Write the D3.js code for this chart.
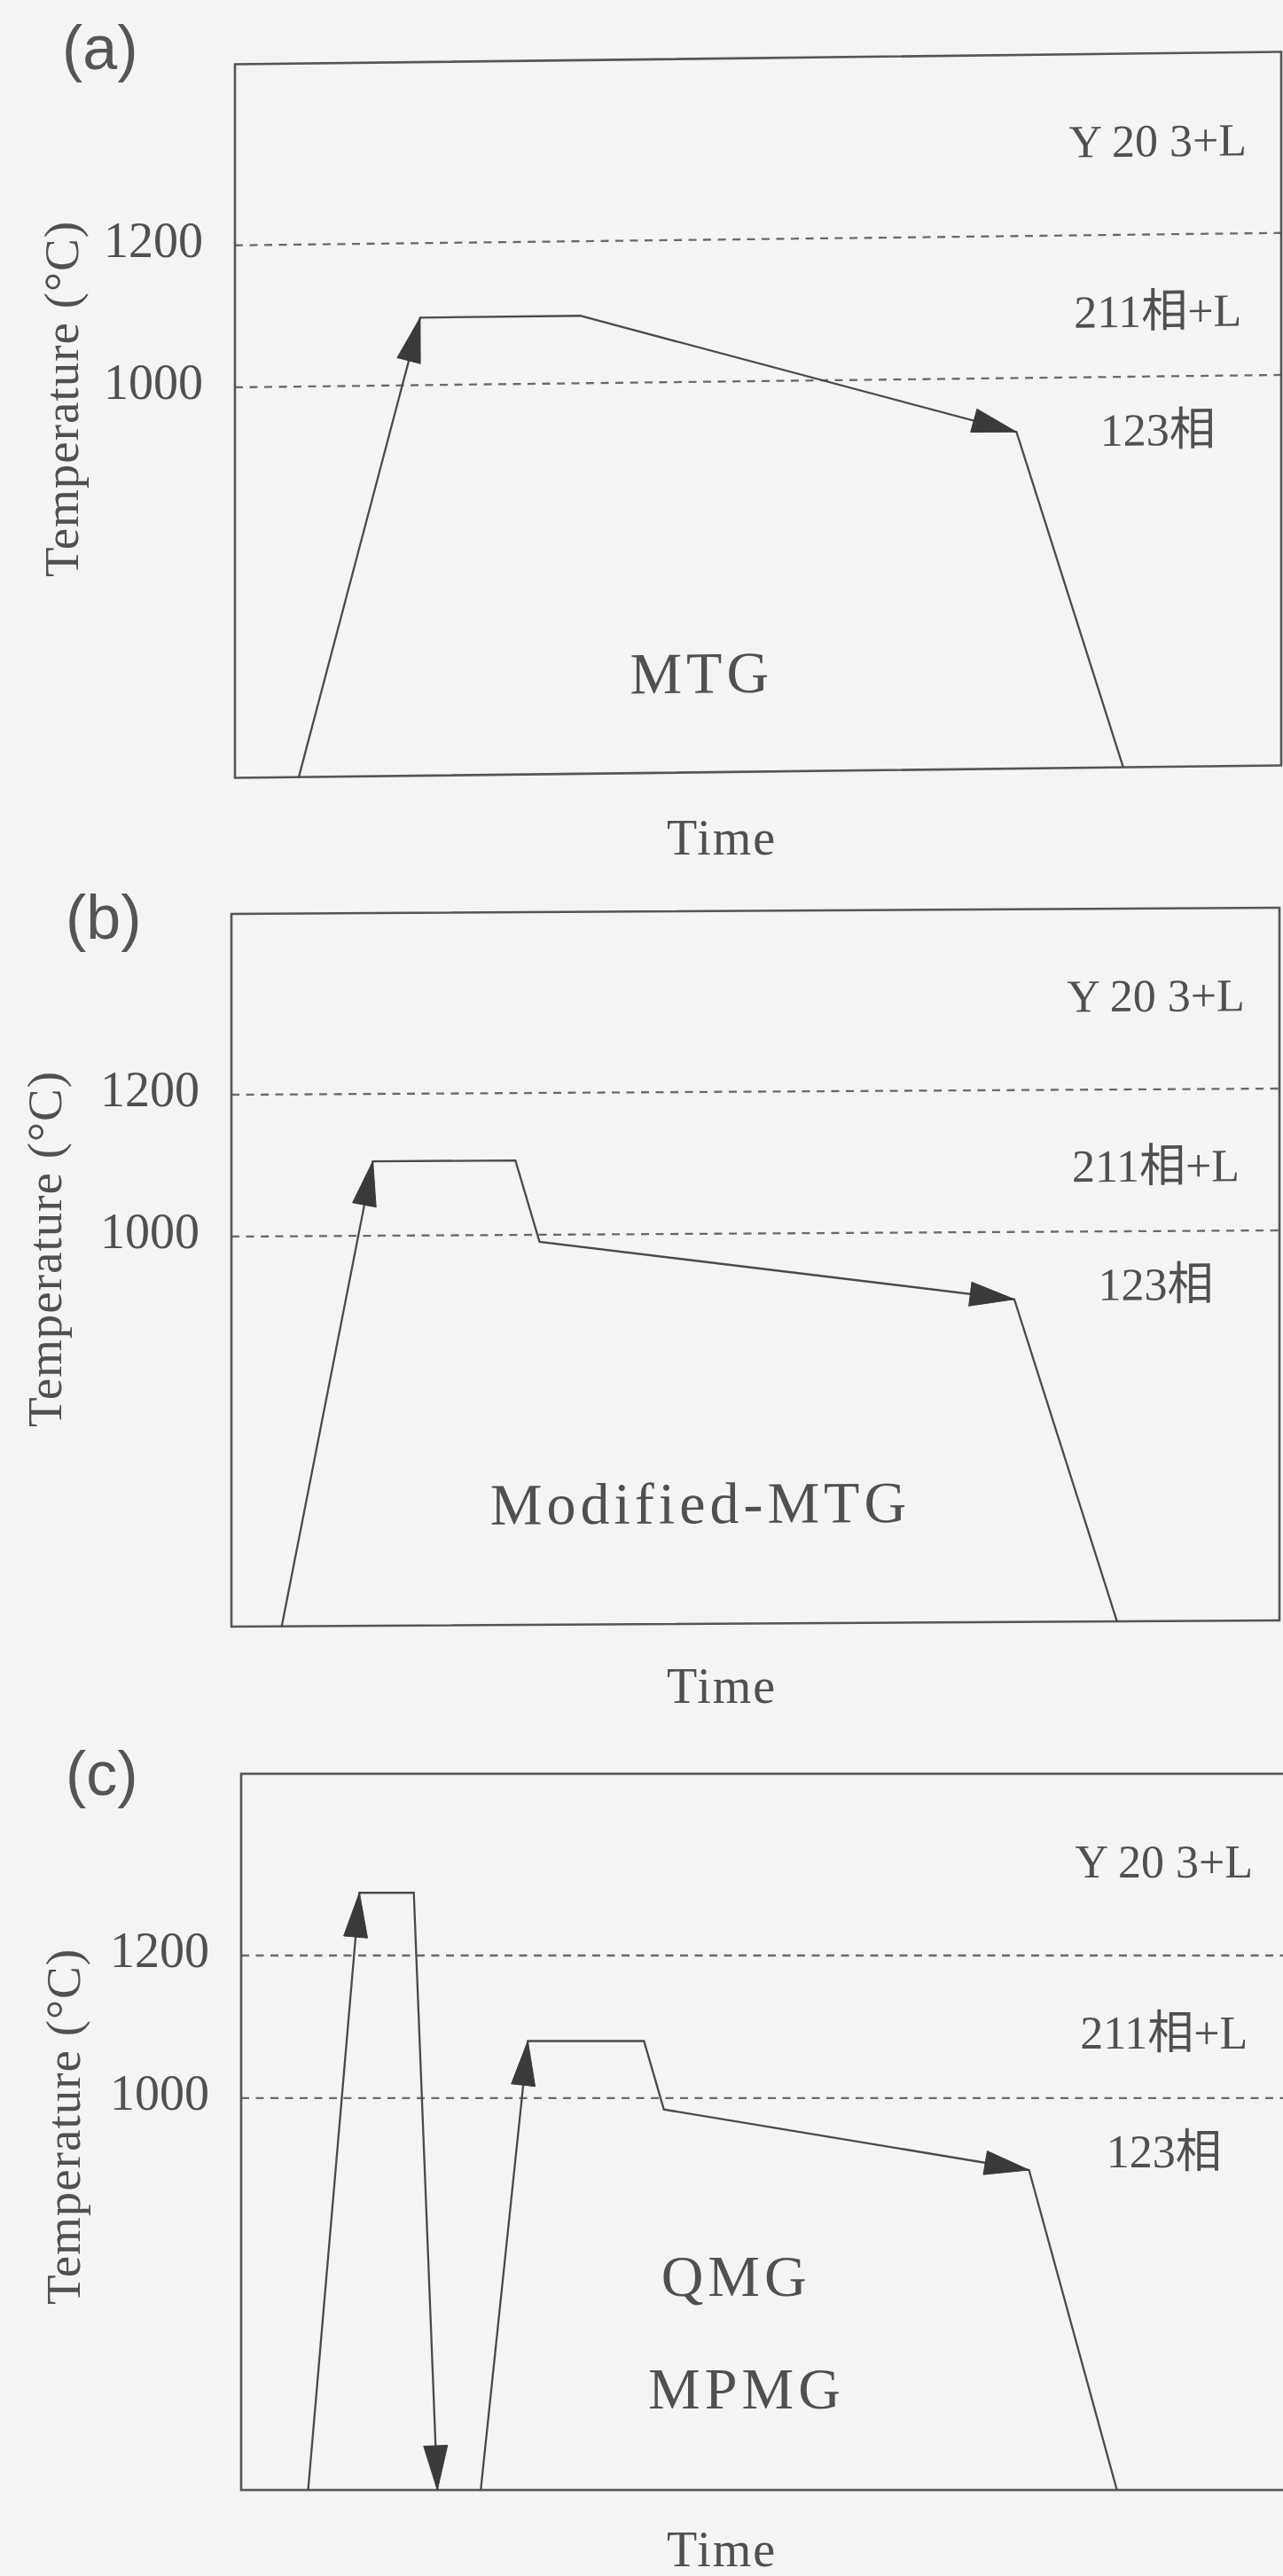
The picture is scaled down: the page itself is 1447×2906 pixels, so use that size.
<!DOCTYPE html>
<html>
<head>
<meta charset="utf-8">
<script src="https://cdn.jsdelivr.net/npm/d3@7"></script>
<style>
  html, body { margin: 0; padding: 0; background: #f5f3f4; }
  svg { display: block; }
</style>
</head>
<body>
<svg id="chart" width="1447" height="2906"></svg>
<script>
// Heat-treatment schedules for melt-processed YBCO: time (arbitrary units) vs temperature (°C)

const panelIds = ["(a)", "(b)", "(c)"];
const methodNames = [["MTG"], ["Modified-MTG"], ["QMG", "MPMG"]];
const tempTicks = [1000, 1200];
const tempDomain = [450, 1455];
const timeDomain = [0, 100];
const axisTitleY = "Temperature (°C)";
const axisTitleX = "Time";

// Phase regions, labelled on the right of every panel
const phaseLabels = ["Y 20 3+L", "211相+L", "123相"];
const phaseLabelTemps = [1310, 1070, 903];
const phaseLabelTime = 88.2;

// (a) MTG
const mtgTime = [6.1, 17.7, 33.0, 74.7, 84.9];
const mtgTemp = [450, 1095, 1095, 924, 450];
const mtgArrows = [1, 3];

// (b) Modified-MTG
const mmtgTime = [4.8, 13.5, 27.1, 29.4, 74.7, 84.5];
const mmtgTemp = [450, 1105, 1105, 990, 905, 450];
const mmtgArrows = [1, 4];

// (c) QMG / MPMG: quench from the Y2O3+L region, then the growth cycle
const quenchTime = [6.4, 11.3, 16.5, 18.75];
const quenchTemp = [450, 1288, 1288, 450];
const quenchArrows = [1, 3];
const growthTime = [22.9, 27.4, 38.5, 40.4, 75.3, 83.7];
const growthTemp = [450, 1080, 1080, 984, 899, 450];
const growthArrows = [1, 4];

const curvesByPanel = [
  [{ t: mtgTime, v: mtgTemp, arrows: mtgArrows }],
  [{ t: mmtgTime, v: mmtgTemp, arrows: mmtgArrows }],
  [{ t: quenchTime, v: quenchTemp, arrows: quenchArrows },
   { t: growthTime, v: growthTemp, arrows: growthArrows }]
];

// Layout of the three stacked panels (pixels); method labels are anchored in data space
const layout = [
  { left: 265, top: 72.5, width: 1180, height: 805, skew: -0.68,
    idPos: [70, 78], titlePos: [69, 450],
    methodAt: [[44.6, 562]] },
  { left: 261, top: 1031, width: 1182, height: 804, skew: -0.34,
    idPos: [74, 1059], titlePos: [50, 1409],
    methodAt: [[44.75, 592]] },
  { left: 272, top: 2001, width: 1180, height: 808, skew: 0,
    idPos: [74, 2025], titlePos: [71, 2399],
    methodAt: [[47.3, 723], [48.3, 564]] }
];

const serif = "'Liberation Serif', 'Noto Sans CJK SC', serif";
const ink = "#4a4a4a";
const textInk = "#505050";

const svg = d3.select("#chart");

layout.forEach((L, i) => {
  const x = d3.scaleLinear().domain(timeDomain).range([0, L.width]);
  const y = d3.scaleLinear().domain(tempDomain).range([L.height, 0]);

  // Plot area, slightly sheared like the printed page
  const plot = svg.append("g")
    .attr("transform", `translate(${L.left},${L.top}) skewY(${L.skew})`);

  // Phase boundaries
  plot.selectAll("line.boundary")
    .data(tempTicks)
    .join("line")
    .attr("class", "boundary")
    .attr("x1", 0).attr("x2", L.width)
    .attr("y1", d => y(d)).attr("y2", d => y(d))
    .attr("stroke", "#6a6a6a")
    .attr("stroke-width", 2.3)
    .attr("stroke-dasharray", "9 7.5");

  // Frame
  plot.append("rect")
    .attr("x", 0).attr("y", 0)
    .attr("width", L.width).attr("height", L.height)
    .attr("fill", "none")
    .attr("stroke", "#555")
    .attr("stroke-width", 2.6);

  // Temperature programmes
  const line = d3.line().x(d => x(d[0])).y(d => y(d[1]));
  curvesByPanel[i].forEach(c => {
    const pts = c.t.map((t, k) => [t, c.v[k]]);
    plot.append("path")
      .attr("d", line(pts))
      .attr("fill", "none")
      .attr("stroke", ink)
      .attr("stroke-width", 2.3)
      .attr("stroke-linejoin", "miter");

    // Arrowheads at the end of the marked segments
    c.arrows.forEach(k => {
      const tx = x(pts[k][0]), ty = y(pts[k][1]);
      const px = x(pts[k - 1][0]), py = y(pts[k - 1][1]);
      const len = Math.hypot(tx - px, ty - py);
      const ux = (tx - px) / len, uy = (ty - py) / len;
      const bx = tx - ux * 50, by = ty - uy * 50;
      const hw = 13.5;
      const tri = [[tx, ty], [bx - uy * hw, by + ux * hw], [bx + uy * hw, by - ux * hw]];
      plot.append("path")
        .attr("d", "M" + tri.map(p => p.join(",")).join("L") + "Z")
        .attr("fill", "#3a3a3a")
        .attr("stroke", "#3a3a3a")
        .attr("stroke-width", 1)
        .attr("stroke-linejoin", "round");
    });
  });

  // Phase-region labels
  plot.selectAll("text.phase")
    .data(phaseLabels)
    .join("text")
    .attr("class", "phase")
    .attr("x", x(phaseLabelTime))
    .attr("y", (d, k) => y(phaseLabelTemps[k]))
    .attr("text-anchor", "middle")
    .attr("font-family", serif)
    .attr("font-size", 52)
    .attr("fill", textInk)
    .text(d => d);

  // Process name(s)
  plot.selectAll("text.method")
    .data(methodNames[i])
    .join("text")
    .attr("class", "method")
    .attr("x", (d, k) => x(L.methodAt[k][0]))
    .attr("y", (d, k) => y(L.methodAt[k][1]))
    .attr("text-anchor", "middle")
    .attr("font-family", serif)
    .attr("font-size", 66)
    .attr("letter-spacing", 5)
    .attr("fill", textInk)
    .text(d => d);

  // Temperature tick labels
  const yAxis = svg.append("g")
    .attr("transform", `translate(${L.left},${L.top})`)
    .call(d3.axisLeft(y).tickValues(tempTicks).tickSize(0).tickPadding(36).tickFormat(d3.format("d")));
  yAxis.select(".domain").remove();
  yAxis.selectAll("text")
    .attr("font-family", serif)
    .attr("font-size", 56)
    .attr("fill", textInk)
    .attr("dy", "0.23em");

  // Axis titles
  svg.append("text")
    .attr("transform", `translate(${L.titlePos[0]},${L.titlePos[1]}) rotate(-90)`)
    .attr("text-anchor", "middle")
    .attr("dy", "0.35em")
    .attr("font-family", serif)
    .attr("font-size", 55)
    .attr("letter-spacing", 1)
    .attr("fill", textInk)
    .text(axisTitleY);

  svg.append("text")
    .attr("x", 814)
    .attr("y", L.top + L.height + 86)
    .attr("text-anchor", "middle")
    .attr("font-family", serif)
    .attr("font-size", 56)
    .attr("letter-spacing", 2)
    .attr("fill", textInk)
    .text(axisTitleX);

  // Panel letter
  svg.append("text")
    .attr("x", L.idPos[0])
    .attr("y", L.idPos[1])
    .attr("font-family", "'Liberation Sans', Arial, sans-serif")
    .attr("font-size", 70)
    .attr("fill", "#555")
    .text(panelIds[i]);
});
</script>
</body>
</html>
